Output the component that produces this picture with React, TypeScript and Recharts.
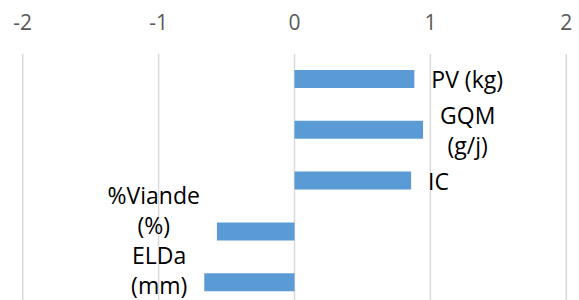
import { Bar, BarChart, CartesianGrid, LabelList, XAxis, YAxis } from 'recharts';

const categories = ['PV (kg)', 'GQM (g/j)', 'IC', '%Viande (%)', 'ELDa (mm)'];
const labelLines = [['PV (kg)'], ['GQM', '(g/j)'], ['IC'], ['%Viande', '(%)'], ['ELDa', '(mm)']];
const values = [0.882, 0.946, 0.858, -0.571, -0.664];
const xTicks = [-2, -1, 0, 1, 2];

const data = categories.map((name, i) => ({ name, value: values[i] }));

const W = 579;
const H = 308;
const AXIS_H = 54;
const VISIBLE_BOTTOM = 300;
const LINE_H = 30;
const GAP = 17;
const LABEL_SIZE = 23;
const FONT = '"Open Sans", sans-serif';

// Excel-style label placement: keep inside the visible chart area and push
// overlapping labels (same side of zero) upward.
const step = (H - AXIS_H) / categories.length;
const natural = categories.map((_, i) => AXIS_H + step * (i + 0.5));
const placed = natural.slice();
for (let i = categories.length - 1; i >= 0; i--) {
  const half = (labelLines[i].length * LINE_H) / 2;
  if (placed[i] + half > VISIBLE_BOTTOM) placed[i] = VISIBLE_BOTTOM - half;
  for (let j = i + 1; j < categories.length; j++) {
    if (Math.sign(values[j]) !== Math.sign(values[i])) continue;
    const topJ = placed[j] - (labelLines[j].length * LINE_H) / 2;
    if (placed[i] + half > topJ) placed[i] = topJ - half;
  }
}

let ctx: CanvasRenderingContext2D | null = null;
function textWidth(s: string) {
  if (!ctx) ctx = document.createElement('canvas').getContext('2d');
  if (!ctx) return s.length * 12;
  ctx.font = `${LABEL_SIZE}px ${FONT}`;
  return ctx.measureText(s).width;
}

function BarLabel(props: any) {
  const { x, y, width, height, index } = props;
  const lines = labelLines[index];
  const left = Math.min(x, x + width);
  const right = Math.max(x, x + width);
  const positive = values[index] >= 0;
  const blockW = Math.max(...lines.map(textWidth));
  const cx = positive ? right + GAP + blockW / 2 : left - GAP - blockW / 2;
  const cy = y + height / 2 + (placed[index] - natural[index]);
  const top = cy - (lines.length * LINE_H) / 2 + LINE_H / 2;
  return (
    <text x={cx} textAnchor="middle" fontFamily={FONT} fontSize={LABEL_SIZE} fill="#000">
      {lines.map((l, k) => (
        <tspan key={k} x={cx} y={top + k * LINE_H} dominantBaseline="central">
          {l}
        </tspan>
      ))}
    </text>
  );
}

export default function App() {
  return (
    <div
      style={{
        position: 'fixed',
        left: 0,
        top: 0,
        width: W,
        height: VISIBLE_BOTTOM,
        overflow: 'hidden',
        background: '#fff',
      }}
    >
      <BarChart
        width={W}
        height={H}
        data={data}
        layout="vertical"
        margin={{ top: 0, right: 12.7, left: 22.7, bottom: 0 }}
      >
        <CartesianGrid horizontal={false} stroke="#d9d9d9" strokeWidth={1.5} />
        <XAxis
          type="number"
          orientation="top"
          domain={[-2, 2]}
          ticks={xTicks}
          height={AXIS_H}
          axisLine={false}
          tickLine={false}
          tickSize={0}
          tickMargin={24}
          tick={{ fill: '#595959', fontSize: 21, fontFamily: FONT }}
        />
        <YAxis type="category" dataKey="name" hide width={0} />
        <Bar dataKey="value" fill="#5b9bd5" barSize={18} isAnimationActive={false}>
          <LabelList dataKey="value" content={BarLabel} />
        </Bar>
      </BarChart>
    </div>
  );
}
